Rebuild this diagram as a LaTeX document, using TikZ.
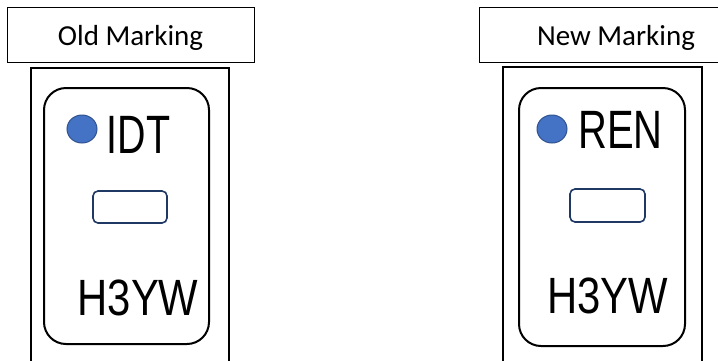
\documentclass[tikz,border=0pt]{standalone}
\usepackage{fontspec}
\usepackage{graphicx}
\setmainfont{Carlito}
\newfontfamily\chipfont{Liberation Sans}
\definecolor{dotblue}{HTML}{4472C4}
\definecolor{dotedge}{HTML}{2F528F}
\definecolor{padedge}{HTML}{1F3864}
\tikzset{
  titlebox/.style={draw,line width=0.8pt},
  titletext/.style={inner sep=0pt,anchor=base,font=\fontsize{29}{34}\selectfont},
  package/.style={draw,line width=1.8pt},
  outline/.style={draw,line width=2pt,rounded corners=22pt},
  pindot/.style={fill=dotblue,draw=dotedge,line width=1pt},
  pad/.style={draw=padedge,line width=1.6pt,rounded corners=5pt},
  vendor/.style={inner sep=0pt,anchor=base,font=\chipfont\fontsize{54}{58}\selectfont},
  lotcode/.style={inner sep=0pt,anchor=base,font=\chipfont\fontsize{51}{56}\selectfont}
}

\begin{document}
\begin{tikzpicture}[x=1pt,y=-1pt]

\useasboundingbox (0,0) rectangle (718,360);
\clip (0,0) rectangle (718,360);

% Title boxes
\draw [titlebox] (7,7) rectangle (254,62);
\draw [titlebox] (479,7) rectangle (760,62);
\node [titletext] (oldtitle) at (130.5,45) {Old Marking};
\node [titletext] (newtitle) at (616,45) {New Marking};

% Old marking chip
\draw [package] (31,68) rectangle (229,365);
\draw [outline] (44,88) rectangle (209,344);
\fill [pindot] (82,129) ellipse (15 and 14);
\node [vendor] (oldvendor) at (138.5,153) {\scalebox{0.73}[1]{IDT}};
\draw [pad] (93,191) rectangle (167,223);
\node [lotcode] (oldlot) at (138,315) {\scalebox{0.82}[1]{H3YW}};

% New marking chip
\draw [package] (503,67) rectangle (702,365);
\draw [outline] (519,88) rectangle (685,346);
\fill [pindot] (552,129) ellipse (15 and 14);
\node [vendor] (newvendor) at (620.5,148) {\scalebox{0.74}[1]{REN}};
\draw [pad] (570,189) rectangle (645,222);
\node [lotcode] (newlot) at (607.5,313) {\scalebox{0.82}[1]{H3YW}};

\end{tikzpicture}
\end{document}
